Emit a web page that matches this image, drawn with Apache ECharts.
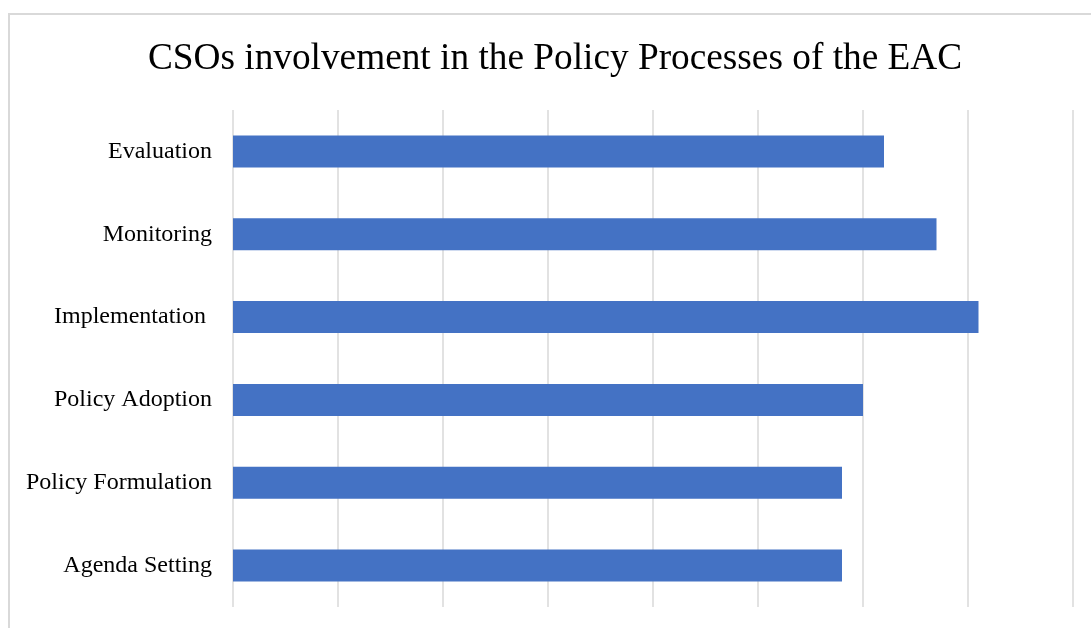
<!DOCTYPE html>
<html>
<head>
<meta charset="utf-8">
<script src="https://cdn.jsdelivr.net/npm/echarts@6/dist/echarts.min.js"></script>
<style>
  html, body { margin: 0; padding: 0; background: #fff; }
  #main { width: 1091px; height: 628px; }
</style>
</head>
<body>
<div id="main"></div>
<script>
// categories bottom to top, as the value axis draws them
const stages = ['Agenda Setting', 'Policy Formulation', 'Policy Adoption', 'Implementation ', 'Monitoring', 'Evaluation'];
const involvement = [5.8, 5.8, 6.0, 7.1, 6.7, 6.2];

const chart = echarts.init(document.getElementById('main'));
chart.setOption({
  animation: false,
  backgroundColor: '#fff',
  title: {
    text: 'CSOs involvement in the Policy Processes of the EAC',
    left: 550,
    textAlign: 'center',
    top: 36,
    textStyle: {
      fontFamily: 'Liberation Serif',
      fontWeight: 'normal',
      fontSize: 37.3,
      color: '#000'
    }
  },
  graphic: [{
    type: 'rect',
    shape: { x: 9, y: 14, width: 1200, height: 700 },
    style: { fill: 'none', stroke: '#d9d9d9', lineWidth: 2 },
    z: -1
  }],
  grid: { left: 233, right: 18, top: 110, bottom: 21 },
  xAxis: {
    type: 'value',
    min: 0,
    max: 8,
    interval: 1,
    axisLabel: { show: false },
    axisLine: { show: false },
    axisTick: { show: false },
    splitLine: { lineStyle: { color: '#d9d9d9', width: 1.5 } }
  },
  yAxis: {
    type: 'category',
    data: stages,
    axisLine: { show: false },
    axisTick: { show: false },
    axisLabel: {
      margin: 21,
      fontFamily: 'Liberation Serif',
      fontSize: 24,
      color: '#000',
      padding: [6, 0, 0, 0]
    }
  },
  series: [{
    type: 'bar',
    data: involvement,
    barWidth: 32,
    itemStyle: { color: '#4472c4' }
  }]
});
</script>
</body>
</html>
